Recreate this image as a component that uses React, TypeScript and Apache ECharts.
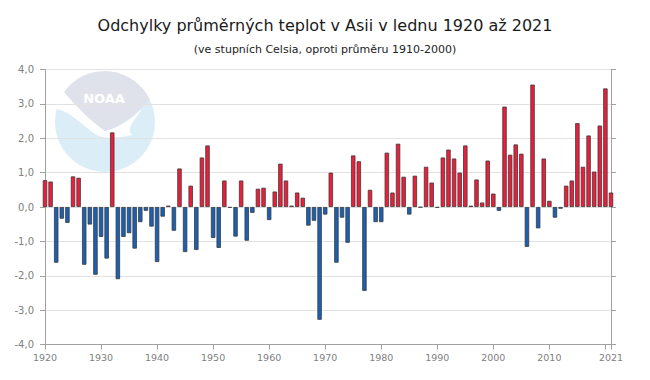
import { useEffect, useRef } from 'react';
import * as echarts from 'echarts';

const TITLE = 'Odchylky průměrných teplot v Asii v lednu 1920 až 2021';
const SUBTITLE = '(ve stupních Celsia, oproti průměru 1910-2000)';

const FIRST_YEAR = 1920;
const LAST_YEAR = 2021;
const X_INTERVAL = 10;
const Y_MIN = -4;
const Y_MAX = 4;
const Y_INTERVAL = 1;

// January temperature anomalies, Asia, 1920..2021 (°C)
const anomalies = [
  0.78, 0.74, -1.62, -0.34, -0.46, 0.89, 0.85, -1.68, -0.51, -1.97,
  -0.87, -1.5, 2.17, -2.1, -0.87, -0.76, -1.21, -0.44, -0.11, -0.57,
  -1.6, -0.28, 0.04, -0.69, 1.12, -1.31, 0.62, -1.25, 1.44, 1.79,
  -0.9, -1.19, 0.77, -0.02, -0.86, 0.77, -0.98, -0.17, 0.53, 0.56,
  -0.38, 0.45, 1.26, 0.77, 0.04, 0.42, 0.27, -0.54, -0.4, -3.28,
  -0.22, 1.0, -1.62, -0.31, -1.04, 1.5, 1.33, -2.44, 0.5, -0.44,
  -0.44, 1.58, 0.42, 1.84, 0.88, -0.22, 0.91, -0.01, 1.17, 0.71,
  -0.02, 1.44, 1.67, 1.41, 1.0, 1.79, 0.04, 0.8, 0.13, 1.35,
  0.39, -0.11, 2.92, 1.52, 1.82, 1.55, -1.16, 3.56, -0.62, 1.41,
  0.18, -0.31, -0.05, 0.62, 0.77, 2.44, 1.17, 2.08, 1.03, 2.37,
  3.45, 0.42,
];

const RED = '#ee1d3a';
const BLUE = '#1b60b2';
const BORDER = '#3a3a3a';
const AXIS = '#a0a0a0';
const LABEL = '#808080';

const GRAY_D = 'M64,92 A50,50 0 0 1 150,100 C138,112 122,127 105,131 C92,122 76,106 64,92 Z';
const WHITE_D =
  'M57,107 A50,50 0 0 1 64,92 C76,106 92,122 105,131 C118,128 130,120 142,109 C134,121 126,129 132,135 C118,138 106,139 99,136 C84,128 72,112 57,109 Z';

let registered = false;
function registerShapes() {
  if (registered) return;
  registered = true;
  echarts.graphic.registerShape('noaaGray', echarts.graphic.extendPath(GRAY_D, {}));
  echarts.graphic.registerShape('noaaWhite', echarts.graphic.extendPath(WHITE_D, {}));
}

export default function App() {
  const ref = useRef<HTMLDivElement>(null);
  useEffect(() => {
    if (!ref.current) return;
    registerShapes();
    const chart = echarts.init(ref.current, undefined, { renderer: 'svg' });
    const font = 'DejaVu Sans';
    chart.setOption({
      animation: false,
      textStyle: { fontFamily: font },
      title: [
        {
          text: TITLE,
          left: 'center',
          top: 12,
          textStyle: { fontSize: 16, fontWeight: 'normal', color: '#1a1a1a', fontFamily: font },
        },
        {
          text: SUBTITLE,
          left: 'center',
          top: 39,
          textStyle: { fontSize: 11, fontWeight: 'normal', color: '#222', fontFamily: font },
        },
      ],
      grid: { left: 45, right: 39, top: 69.5, bottom: 35.5, containLabel: false, outerBoundsMode: 'none' },
      xAxis: {
        type: 'value',
        min: FIRST_YEAR,
        max: LAST_YEAR,
        interval: X_INTERVAL,
        axisLine: { show: true, onZero: false, lineStyle: { color: AXIS } },
        axisTick: { show: true, length: 5, lineStyle: { color: AXIS } },
        axisLabel: {
          color: LABEL,
          fontSize: 9.5,
          margin: 8,
          fontFamily: font,
          formatter: (v: number) => (v === LAST_YEAR - 1 ? '' : String(v)),
        },
        splitLine: { show: false },
      },
      yAxis: [
        {
          type: 'value',
          min: Y_MIN,
          max: Y_MAX,
          interval: Y_INTERVAL,
          position: 'left',
          axisLine: { show: true, onZero: false, lineStyle: { color: AXIS } },
          axisTick: { show: true, length: 5, lineStyle: { color: AXIS } },
          axisLabel: {
            color: LABEL,
            fontSize: 10,
            margin: 11,
            fontFamily: font,
            formatter: (v: number) => v.toFixed(1).replace('.', ','),
          },
          splitLine: { show: true, lineStyle: { color: '#e2e2e2' } },
        },
        {
          type: 'value',
          min: Y_MIN,
          max: Y_MAX,
          interval: Y_INTERVAL,
          position: 'right',
          axisLine: { show: true, onZero: false, lineStyle: { color: AXIS } },
          axisTick: { show: true, length: 5, lineStyle: { color: AXIS } },
          axisLabel: { show: false },
          splitLine: { show: false },
        },
      ],
      series: [
        {
          type: 'bar',
          data: anomalies.map((v, i) => [FIRST_YEAR + i, v]),
          barWidth: 4.4,
          clip: false,
          itemStyle: {
            color: (p: any) => (p.value[1] >= 0 ? RED : BLUE),
            borderColor: BORDER,
            borderWidth: 0.8,
          },
        },
      ],
      graphic: [
        { type: 'circle', z: -10, shape: { cx: 105, cy: 122, r: 50 }, style: { fill: '#dbeef8' } },
        { type: 'noaaWhite', z: -9, x: 0, y: 0, style: { fill: '#ffffff' } },
        { type: 'noaaGray', z: -9, x: 0, y: 0, style: { fill: '#dfe2eb' } },
        {
          type: 'text',
          z: -8,
          x: 104,
          y: 98,
          style: {
            text: 'NOAA',
            fill: '#ffffff',
            font: 'bold 13px "DejaVu Sans"',
            align: 'center',
            verticalAlign: 'middle',
          },
        },
      ],
    });
    return () => chart.dispose();
  }, []);
  return <div ref={ref} style={{ position: 'absolute', left: 0, top: 0, width: 650, height: 380 }} />;
}
